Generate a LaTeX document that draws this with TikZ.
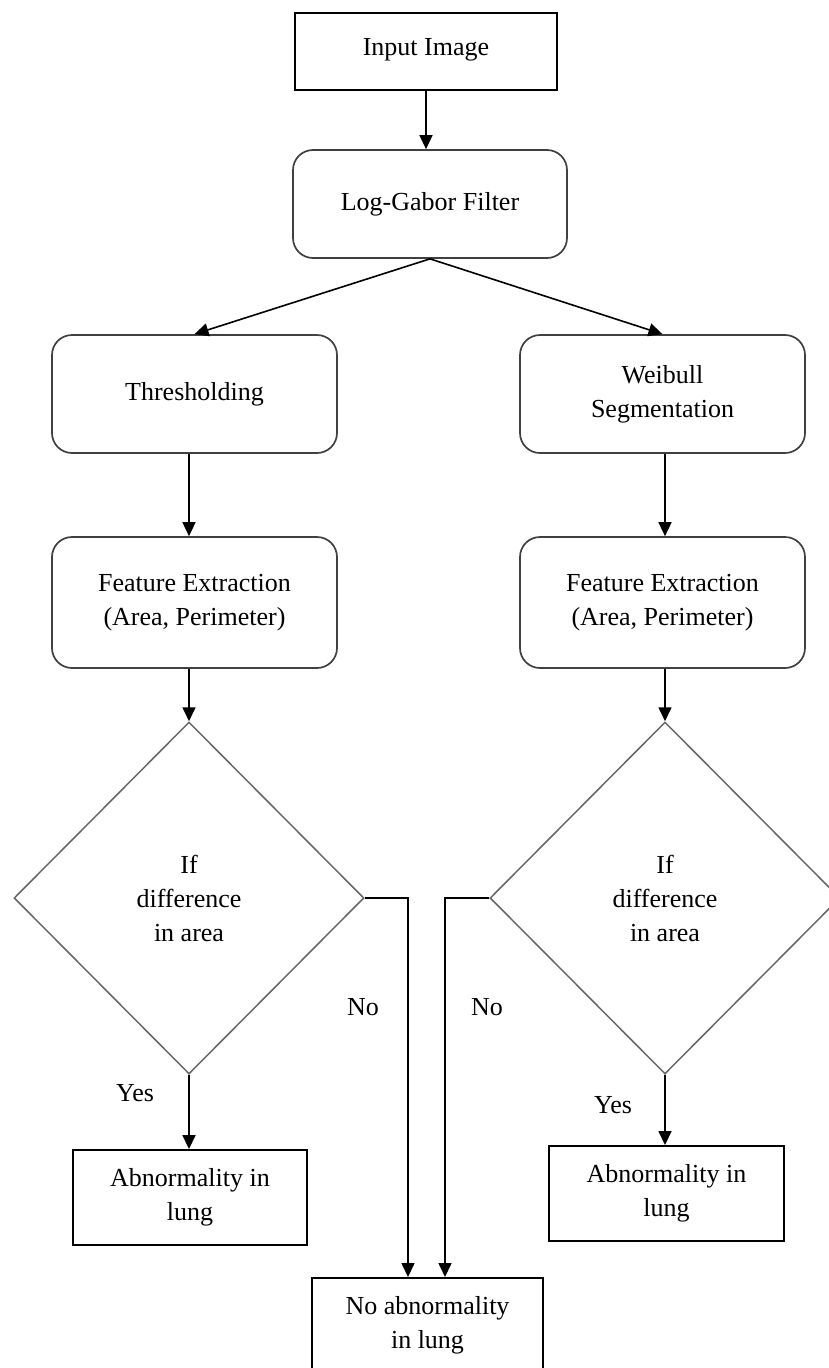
\documentclass[tikz,border=0pt]{standalone}
\usepackage{fontspec}
\setmainfont{Liberation Serif}
\usetikzlibrary{shapes.geometric,arrows.meta}
\begin{document}
\begin{tikzpicture}[x=1pt,y=-1pt,
  every node/.style={font=\fontsize{26}{34}\selectfont, align=center, inner sep=0pt},
  sqbox/.style={draw=black, line width=1.9pt, rectangle},
  rbox/.style={draw=black!75, line width=1.7pt, rectangle, rounded corners=20pt},
  dec/.style={draw=black!60, line width=1.5pt, diamond, minimum width=350pt, minimum height=352pt},
  arr/.style={draw=black, line width=1.6pt, -{Triangle[length=14pt,width=13pt]}}]
\useasboundingbox (0,0) rectangle (829,1368);
% boxes
\node[sqbox, minimum width=262pt, minimum height=77pt] (in) at (426,51.5) {\raisebox{10pt}{Input Image}};
\node[rbox, minimum width=274pt, minimum height=108pt] (lg) at (430,204) {Log-Gabor Filter};
\node[rbox, minimum width=285pt, minimum height=118pt] (th) at (194.5,394) {\raisebox{4pt}{Thresholding}};
\node[rbox, minimum width=285pt, minimum height=118pt] (wb) at (662.5,394) {Weibull\\Segmentation};
\node[rbox, minimum width=285pt, minimum height=131pt] (fe1) at (194.5,602.5) {Feature Extraction\\(Area, Perimeter)};
\node[rbox, minimum width=285pt, minimum height=131pt] (fe2) at (662.5,602.5) {Feature Extraction\\(Area, Perimeter)};
\node[dec] (d1) at (189,898) {If\\difference\\in area};
\node[dec] (d2) at (665,898) {If\\difference\\in area};
\node[sqbox, minimum width=234pt, minimum height=95pt] (ab1) at (190,1197.5) {Abnormality in\\lung};
\node[sqbox, minimum width=235pt, minimum height=95pt] (ab2) at (666.5,1193.5) {Abnormality in\\lung};
\node[sqbox, minimum width=231pt, minimum height=95pt, anchor=north] (no) at (427.5,1277) {No abnormality\\in lung};
% labels
\node (yes1) at (135,1093) {Yes};
\node (yes2) at (613,1105) {Yes};
\node (no1) at (363,1007) {No};
\node (no2) at (487,1007) {No};
% connectors
\draw[arr] (in.south) -- (in.south |- lg.north);
\draw[arr] (lg.south) -- (th.north);
\draw[arr] (lg.south) -- (wb.north);
\draw[arr] (d1.north |- th.south) -- (d1.north |- fe1.north);
\draw[arr] (d2.north |- wb.south) -- (d2.north |- fe2.north);
\draw[arr] (d1.north |- fe1.south) -- (d1.north);
\draw[arr] (d2.north |- fe2.south) -- (d2.north);
\draw[arr] (d1.south) -- (d1.south |- ab1.north);
\draw[arr] (d2.south) -- (d2.south |- ab2.north);
\coordinate (k1) at (408,898);
\coordinate (k2) at (445,898);
\draw[arr] (d1.east) -- (k1) -- (k1 |- no.north);
\draw[arr] (d2.west) -- (k2) -- (k2 |- no.north);
\end{tikzpicture}
\end{document}
